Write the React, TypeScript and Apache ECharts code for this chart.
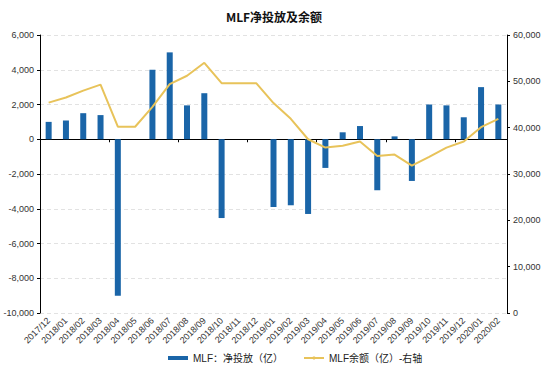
import React, { useEffect, useRef } from "react";
import * as echarts from "echarts";

const categories = [
  "2017/12", "2018/01", "2018/02", "2018/03", "2018/04", "2018/05", "2018/06",
  "2018/07", "2018/08", "2018/09", "2018/10", "2018/11", "2018/12", "2019/01",
  "2019/02", "2019/03", "2019/04", "2019/05", "2019/06", "2019/07", "2019/08",
  "2019/09", "2019/10", "2019/11", "2019/12", "2020/01", "2020/02",
];

const netInjection = [
  1000, 1085, 1500, 1390, -9000, 0, 4000, 5000, 1950, 2650, -4535, 0, 0, -3900,
  -3800, -4300, -1650, 400, 760, -2935, 165, -2400, 2000, 1950, 1265, 3000, 2000,
];

const balance = [
  45400, 46500, 48000, 49300, 40200, 40200, 44500, 49400, 51200, 54000, 49600,
  49600, 49600, 45300, 41900, 37500, 35700, 36100, 37000, 33900, 34200, 31800,
  33700, 35700, 37000, 40100, 41900,
];

const leftTicks = { min: -10000, max: 6000, interval: 2000 };
const rightTicks = { min: 0, max: 60000, interval: 10000 };

const seriesNames = ["MLF：净投放（亿）", "MLF余额（亿）-右轴"];

const BAR = "#1a65a8";
const LINE = "#e8c35a";
const FONT = "Liberation Sans, Noto Sans CJK SC, sans-serif";

export default function App() {
  const ref = useRef<HTMLDivElement>(null);
  useEffect(() => {
    if (!ref.current) return;
    const chart = echarts.init(ref.current, undefined, { renderer: "svg" });
    const fmt = (v: number) => v.toLocaleString("en-US");
    chart.setOption({
      animation: false,
      backgroundColor: "#ffffff",
      title: {
        text: "MLF净投放及余额",
        left: "center",
        top: 5,
        textStyle: {
          fontFamily: "Noto Sans CJK SC, sans-serif",
          fontWeight: "bold",
          fontSize: 12,
          color: "#111",
        },
      },
      legend: {
        bottom: 7,
        left: 163,
        itemGap: 20,
        textStyle: { fontFamily: FONT, fontSize: 10, color: "#222" },
        data: [
          { name: seriesNames[0], icon: "rect", itemStyle: { color: BAR } },
          { name: seriesNames[1] },
        ],
        itemWidth: 20,
        itemHeight: 4,
      },
      grid: { left: 40, right: 41, top: 35, bottom: 62, containLabel: false },
      xAxis: [
        {
          type: "category",
          data: categories,
          axisLine: { onZero: true, lineStyle: { color: "#000", width: 1 } },
          axisTick: { show: true, length: 3, lineStyle: { color: "#000" } },
          axisLabel: { show: false },
          splitLine: { show: false },
        },
        {
          type: "category",
          data: categories,
          position: "bottom",
          axisLine: { show: false, onZero: false },
          axisTick: { show: false },
          axisLabel: {
            rotate: 45,
            interval: 0,
            margin: 6,
            fontSize: 9,
            fontFamily: FONT,
            color: "#333",
          },
        },
      ],
      yAxis: [
        {
          type: "value",
          ...leftTicks,
          axisLine: { show: true, lineStyle: { color: "#000" } },
          axisTick: { show: true, length: 3, lineStyle: { color: "#000" } },
          axisLabel: {
            formatter: fmt,
            fontSize: 9,
            fontFamily: FONT,
            color: "#333",
            margin: 6,
          },
          splitLine: {
            show: true,
            lineStyle: { color: "#e2e2e2", type: [4, 3], width: 1 },
          },
        },
        {
          type: "value",
          ...rightTicks,
          position: "right",
          axisLine: { show: true, lineStyle: { color: "#000" } },
          axisTick: { show: true, length: 3, lineStyle: { color: "#000" } },
          axisLabel: {
            formatter: fmt,
            fontSize: 9,
            fontFamily: FONT,
            color: "#333",
            margin: 6,
          },
          splitLine: { show: false },
        },
      ],
      series: [
        {
          name: seriesNames[0],
          type: "bar",
          data: netInjection,
          xAxisIndex: 0,
          yAxisIndex: 0,
          barWidth: 6,
          itemStyle: { color: BAR },
        },
        {
          name: seriesNames[1],
          type: "line",
          data: balance,
          xAxisIndex: 0,
          yAxisIndex: 1,
          symbol: "none",
          lineStyle: { color: LINE, width: 2 },
          itemStyle: { color: LINE },
        },
      ],
    });
    return () => chart.dispose();
  }, []);
  return <div ref={ref} style={{ width: 548, height: 375, position: "absolute", left: 0, top: 0 }} />;
}
